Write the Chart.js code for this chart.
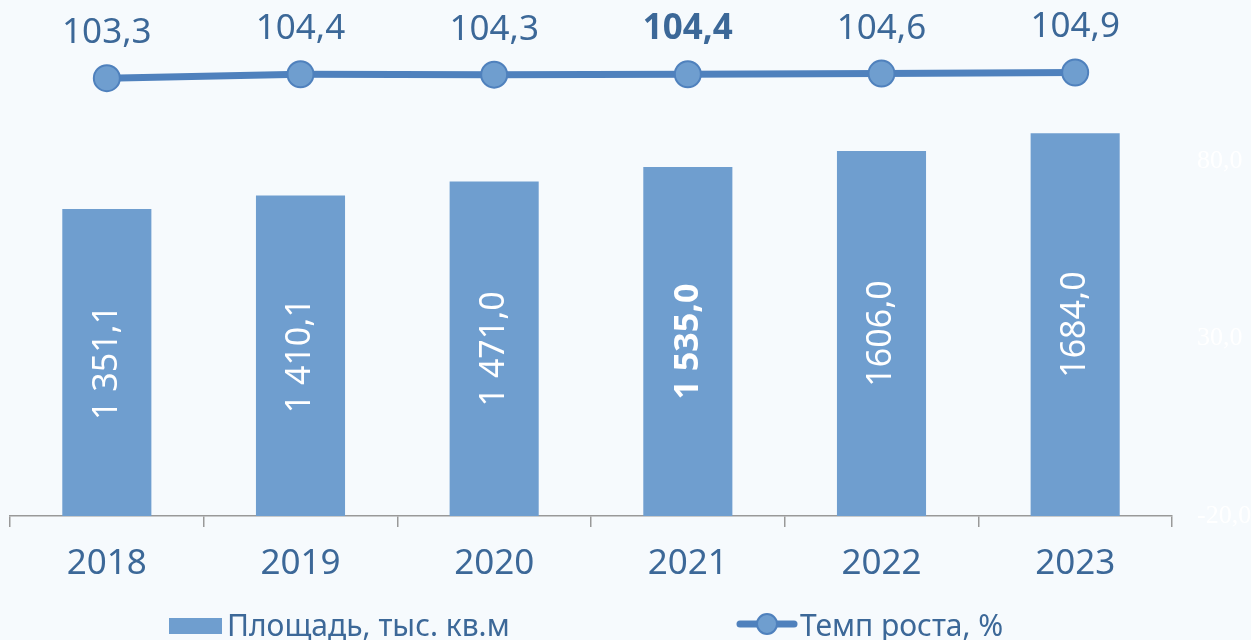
<!DOCTYPE html>
<html>
<head>
<meta charset="utf-8">
<script src="https://cdn.jsdelivr.net/npm/chart.js@4"></script>
<style>
  html, body { margin: 0; padding: 0; background: #f6fafd; }
  #wrap { width: 1251px; height: 640px; position: relative; }
</style>
</head>
<body>
<div id="wrap"><canvas id="areaChart"></canvas></div>
<script>
// data
const years = ['2018', '2019', '2020', '2021', '2022', '2023'];
const areaValues = [1351.1, 1410.1, 1471.0, 1535.0, 1606.0, 1684.0];
const areaLabels = ['1 351,1', '1 410,1', '1 471,0', '1 535,0', '1606,0', '1684,0'];
const growthValues = [103.3, 104.4, 104.3, 104.4, 104.6, 104.9];
const growthLabels = ['103,3', '104,4', '104,3', '104,4', '104,6', '104,9'];
const boldIndex = 3;
const rightTicks = [-20, 30, 80];

const textColor = '#3c6898';
const barColor = '#6f9ecf';
const lineColor = '#4f81bd';
const fontFamily = '"Noto Sans", "DejaVu Sans", sans-serif';

// value labels on bars and points
const valueLabels = {
    id: 'valueLabels',
    afterDatasetsDraw(chart) {
        const ctx = chart.ctx;
        ctx.save();
        // bars: rotated, white
        chart.getDatasetMeta(0).data.forEach((bar, i) => {
            const midY = (bar.y + bar.base) / 2;
            ctx.save();
            ctx.translate(bar.x, midY);
            ctx.rotate(-Math.PI / 2);
            ctx.font = (i === boldIndex ? 'bold ' : '') + '34px ' + fontFamily;
            ctx.fillStyle = '#ffffff';
            ctx.textAlign = 'center';
            ctx.textBaseline = 'middle';
            ctx.fillText(areaLabels[i], 0, 0);
            ctx.restore();
        });
        // line points: above
        chart.getDatasetMeta(1).data.forEach((pt, i) => {
            ctx.font = (i === boldIndex ? 'bold ' : '') + '35px ' + fontFamily;
            ctx.fillStyle = textColor;
            ctx.textAlign = 'center';
            ctx.textBaseline = 'middle';
            ctx.fillText(growthLabels[i], pt.x, pt.y - 45);
        });
        ctx.restore();
    }
};

// faint right axis labels (white), placed by the y1 scale
const rightAxisLabels = {
    id: 'rightAxisLabels',
    afterDraw(chart) {
        const ctx = chart.ctx;
        const y1 = chart.scales.y1;
        ctx.save();
        ctx.font = '26px "Liberation Serif", serif';
        ctx.fillStyle = '#ffffff';
        ctx.textAlign = 'left';
        ctx.textBaseline = 'middle';
        rightTicks.forEach(v => {
            ctx.fillText(v.toFixed(1).replace('.', ','), chart.chartArea.right + 25, y1.getPixelForValue(v));
        });
        ctx.restore();
    }
};

// bottom legend
const bottomLegend = {
    id: 'bottomLegend',
    afterDraw(chart) {
        const ctx = chart.ctx;
        const ds = chart.data.datasets;
        ctx.save();
        ctx.font = '30px ' + fontFamily;
        ctx.fillStyle = barColor;
        ctx.fillRect(169, 618, 53, 16);
        ctx.fillStyle = textColor;
        ctx.textBaseline = 'alphabetic';
        ctx.textAlign = 'left';
        ctx.fillText(ds[0].label, 227, 636);

        ctx.strokeStyle = lineColor;
        ctx.lineWidth = 7;
        ctx.lineCap = 'round';
        ctx.beginPath();
        ctx.moveTo(740, 624);
        ctx.lineTo(794, 624);
        ctx.stroke();
        ctx.beginPath();
        ctx.arc(767, 624, 10, 0, Math.PI * 2);
        ctx.fillStyle = barColor;
        ctx.fill();
        ctx.lineWidth = 2;
        ctx.stroke();
        ctx.fillStyle = textColor;
        ctx.fillText(ds[1].label, 800, 636);
        ctx.restore();
    }
};

const config = {
    type: 'bar',
    data: {
        labels: years,
        datasets: [{
            type: 'bar',
            label: 'Площадь, тыс. кв.м',
            data: areaValues,
            backgroundColor: barColor,
            categoryPercentage: 1,
            barPercentage: 0.46,
            yAxisID: 'y',
            order: 2
        }, {
            type: 'line',
            label: 'Темп роста, %',
            data: growthValues,
            borderColor: lineColor,
            borderWidth: 7,
            pointRadius: 13,
            pointHoverRadius: 13,
            pointBorderWidth: 2,
            pointBackgroundColor: barColor,
            pointBorderColor: lineColor,
            tension: 0,
            yAxisID: 'y1',
            order: 1
        }]
    },
    options: {
        responsive: true,
        maintainAspectRatio: false,
        animation: false,
        layout: { autoPadding: false, padding: { top: 10, left: 10, right: 79, bottom: 0 } },
        plugins: {
            legend: { display: false },
            tooltip: { enabled: false }
        },
        scales: {
            x: {
                offset: true,
                grid: {
                    display: true,
                    offset: true,
                    drawOnChartArea: false,
                    tickLength: 11,
                    color: '#999999',
                    lineWidth: 1.5
                },
                border: { display: true, color: '#999999', width: 1.5 },
                ticks: {
                    color: textColor,
                    font: { family: fontFamily, size: 35 },
                    padding: 16
                },
                afterFit(scale) { scale.height = 124; }
            },
            y: {
                display: false,
                min: 0,
                max: 2226
            },
            y1: {
                display: false,
                position: 'right',
                min: -20,
                max: 122.5
            }
        }
    },
    plugins: [valueLabels, rightAxisLabels, bottomLegend]
};

const areaChart = new Chart(document.getElementById('areaChart'), config);
</script>
</body>
</html>
